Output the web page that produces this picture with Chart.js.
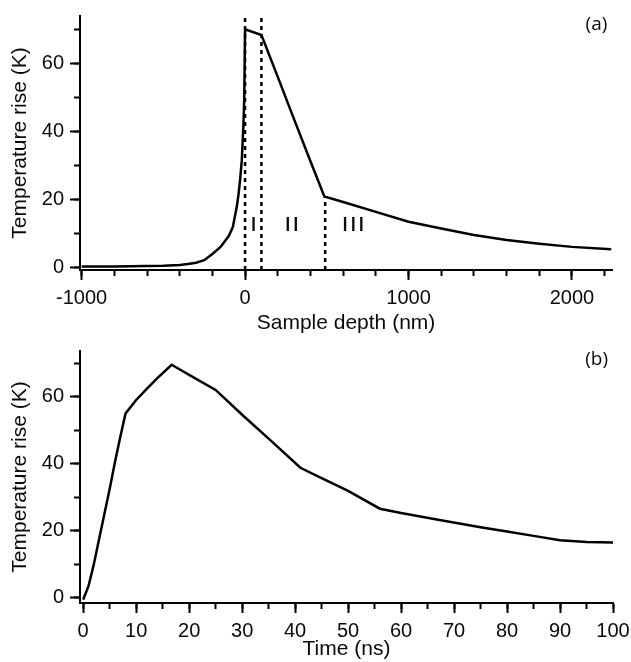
<!DOCTYPE html>
<html>
<head>
<title>Temperature rise vs depth and time</title>
<script src="https://cdn.jsdelivr.net/npm/chart.js"></script>
<style>
  body { margin: 0; background: #fff; }
  #wrap { position: relative; width: 631px; height: 662px; overflow: hidden; }
  canvas { position: absolute; left: 0; }
  #chartA { top: 0; }
  #chartB { top: 331px; }
</style>
</head>
<body>
<div id="wrap">
  <canvas id="chartB" width="631" height="331"></canvas>
  <canvas id="chartA" width="631" height="345"></canvas>
</div>
<script>
// (a) temperature rise along the sample depth
const depthNm = [-1000, -800, -600, -500, -400, -350, -300, -250, -200, -150, -100, -75, -50, -40, -30, -20, -10, -5, 0,
                 100, 200, 300, 400, 485, 600, 800, 1000, 1200, 1400, 1600, 1800, 2000, 2240];
const depthTemp = [0.2, 0.25, 0.35, 0.45, 0.7, 0.95, 1.35, 2.1, 3.9, 6.0, 9.2, 11.8, 18, 21.5, 25.9, 31.5, 42, 50, 70,
                   68.3, 56, 43.5, 31.2, 20.8, 19.2, 16.3, 13.4, 11.4, 9.5, 8.0, 6.9, 6.0, 5.3];
// dotted boundaries between regions I / II / III
const boundaryDepths = [0, 100, 490];
const boundaryTops = [73.9, 73.9, 20.6];
const regionLabels = ['I', 'II', 'III'];
const regionLabelDepths = [58, 292, 668];
const depthMajorTicks = [-1000, 0, 1000, 2000];
const depthMinorTicks = [-1000, -800, -600, -400, -200, 0, 200, 400, 600, 800, 1000, 1200, 1400, 1600, 1800, 2000, 2200];
const tempMajorTicks = [0, 20, 40, 60];
const tempMinorTicks = [0, 10, 20, 30, 40, 50, 60, 70];

// (b) temperature rise over time
const timeNs = [0, 1, 2, 3, 4, 5, 6, 7, 8, 10, 12, 14, 16.7, 18, 20, 25, 30, 35, 41, 45, 50, 56, 60, 67, 75, 80, 85, 90, 95, 100];
const timeTemp = [-0.5, 3.5, 10, 17.5, 25, 32.5, 40.5, 48, 55, 59, 62.3, 65.5, 69.5, 68.3, 66.5, 62, 54.6, 47.5, 38.8, 35.7,
                  31.9, 26.6, 25.3, 23.3, 21.1, 19.8, 18.5, 17.2, 16.7, 16.5];
const timeMajorTicks = [0, 10, 20, 30, 40, 50, 60, 70, 80, 90, 100];
const timeMinorTicks = [0, 5, 10, 15, 20, 25, 30, 35, 40, 45, 50, 55, 60, 65, 70, 75, 80, 85, 90, 95, 100];

const FONT = "'Liberation Sans', Arial, sans-serif";
const LABEL_FONT = "'Open Sans', 'Noto Sans', sans-serif";
const INK = '#0a0a0a';

function toPoints(xs, ys) {
  return xs.map((x, i) => ({ x: x, y: ys[i] }));
}

function fixedTicks(values) {
  return scale => { scale.ticks = values.map(v => ({ value: v })); };
}

// one labelled axis with long ticks, one bare axis with short ticks on top of it
function axisPair(o) {
  const horizontal = o.position === 'bottom';
  const fit = size => s => {
    if (horizontal) s.height = size; else s.width = size;
    s.paddingLeft = 0; s.paddingRight = 0; s.paddingTop = 0; s.paddingBottom = 0;
  };
  const major = {
    type: 'linear', position: o.position, weight: 1, bounds: 'data',
    min: o.min, max: o.max,
    afterBuildTicks: fixedTicks(o.major),
    afterFit: fit(o.size),
    grid: { drawOnChartArea: false, tickLength: 10, tickWidth: 2, tickColor: '#000' },
    border: { display: true, color: '#000', width: 2 },
    ticks: { autoSkip: false, maxRotation: 0, padding: 6, color: INK,
             font: { family: FONT, size: 20 }, callback: v => String(v) },
    title: { display: true, text: o.title, color: INK, font: { family: FONT, size: 21 }, padding: o.titlePad }
  };
  const minor = {
    type: 'linear', position: o.position, weight: 0, bounds: 'data',
    min: o.min, max: o.max,
    afterBuildTicks: fixedTicks(o.minor),
    afterFit: fit(0),
    grid: { drawOnChartArea: false, tickLength: 6, tickWidth: 2, tickColor: '#000' },
    border: { display: true, color: '#000', width: 2 },
    ticks: { display: false, autoSkip: false }
  };
  return [major, minor];
}

function textPlugin(labels) {
  return {
    id: 'panelText',
    afterDatasetsDraw(chart) {
      const { ctx, scales } = chart;
      ctx.save();
      ctx.fillStyle = INK;
      ctx.textAlign = 'center';
      ctx.textBaseline = 'middle';
      labels.forEach(l => {
        ctx.font = l.font;
        ctx.letterSpacing = l.spacing || '0px';
        ctx.fillText(l.text, scales.x.getPixelForValue(l.x), scales.y.getPixelForValue(l.y));
      });
      ctx.restore();
    }
  };
}

const curveStyle = { borderColor: '#000', borderWidth: 2.5, pointRadius: 0, tension: 0, fill: false };
const dotStyle = { borderColor: '#000', borderWidth: 2.5, borderDash: [4, 4], pointRadius: 0, fill: false };

// ---- panel (a)
const [xA, xAMinor] = axisPair({ position: 'bottom', min: -1010, max: 2245, major: depthMajorTicks, minor: depthMinorTicks,
  size: 75, title: 'Sample depth (nm)', titlePad: { top: 0, bottom: 9 } });
const [yA, yAMinor] = axisPair({ position: 'left', min: -0.8, max: 73.9, major: tempMajorTicks, minor: tempMinorTicks,
  size: 80, title: 'Temperature rise (K)', titlePad: { top: 8, bottom: 0 } });

const boundarySets = boundaryDepths.map((d, i) => Object.assign({
  data: [{ x: d, y: -0.8 }, { x: d, y: boundaryTops[i] }]
}, dotStyle));

const labelsA = [{ text: '(a)', x: 2150, y: 71.5, font: '19px ' + LABEL_FONT }]
  .concat(regionLabels.map((t, i) => ({ text: t, x: regionLabelDepths[i], y: 12.4, font: '600 20px ' + LABEL_FONT, spacing: '2px' })));

new Chart(document.getElementById('chartA'), {
  type: 'line',
  data: { datasets: [Object.assign({ data: toPoints(depthNm, depthTemp) }, curveStyle)].concat(boundarySets) },
  options: {
    responsive: false, animation: false, devicePixelRatio: 1,
    layout: { padding: { left: 0, right: 19, top: 16, bottom: 0 } },
    plugins: { legend: { display: false }, tooltip: { enabled: false } },
    scales: { x: xA, xMinor: xAMinor, y: yA, yMinor: yAMinor }
  },
  plugins: [textPlugin(labelsA)]
});

// ---- panel (b)
const [xB, xBMinor] = axisPair({ position: 'bottom', min: -0.6, max: 100, major: timeMajorTicks, minor: timeMinorTicks,
  size: 59, title: 'Time (ns)', titlePad: { top: 0, bottom: 0 } });
const [yB, yBMinor] = axisPair({ position: 'left', min: -1.5, max: 73.6, major: tempMajorTicks, minor: tempMinorTicks,
  size: 80, title: 'Temperature rise (K)', titlePad: { top: 8, bottom: 0 } });

const labelsB = [{ text: '(b)', x: 96.9, y: 71.1, font: '19px ' + LABEL_FONT }];

new Chart(document.getElementById('chartB'), {
  type: 'line',
  data: { datasets: [Object.assign({ data: toPoints(timeNs, timeTemp) }, curveStyle)] },
  options: {
    responsive: false, animation: false, devicePixelRatio: 1,
    layout: { padding: { left: 0, right: 18, top: 20, bottom: 0 } },
    plugins: { legend: { display: false }, tooltip: { enabled: false } },
    scales: { x: xB, xMinor: xBMinor, y: yB, yMinor: yBMinor }
  },
  plugins: [textPlugin(labelsB)]
});
</script>
</body>
</html>
